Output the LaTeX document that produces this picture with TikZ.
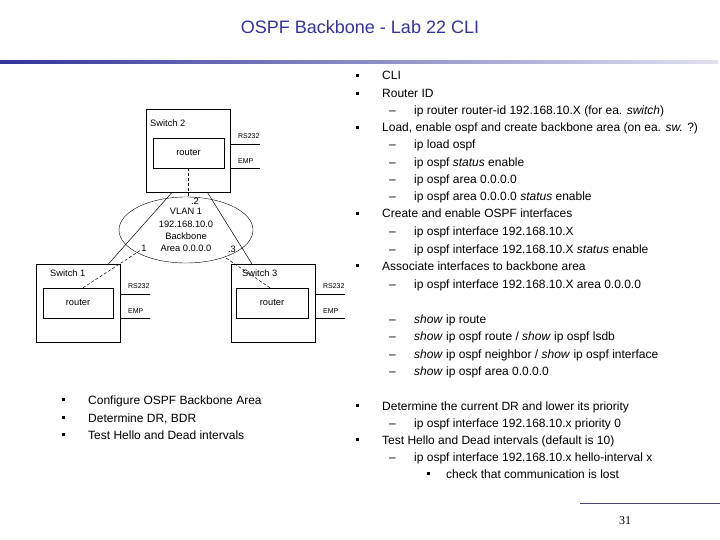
\documentclass[tikz,border=0pt]{standalone}
\usepackage{fontspec}
\setmainfont{Liberation Sans}
\newfontfamily\numfont{Liberation Serif}
\usetikzlibrary{shapes,arrows,positioning}

\definecolor{titleblue}{RGB}{51,51,153}
\definecolor{barlight}{RGB}{225,225,240}
\definecolor{footline}{RGB}{70,70,110}

% list markers
\newcommand\sqb{\rule[3.1pt]{2.6pt}{2.6pt}}
\newcommand\lvla[1]{\makebox[26.3pt][l]{\sqb}#1}
\newcommand\lvlb[1]{\makebox[25pt][l]{\textendash}#1}
\newcommand\lvlc[1]{\makebox[19.3pt][l]{\sqb}#1}

\begin{document}
\begin{tikzpicture}[
    x=1pt, y=-1pt,
    title/.style={font=\fontsize{18}{21}\selectfont, text=titleblue},
    item/.style={anchor=base west, inner sep=0pt, font=\fontsize{12}{14}\selectfont},
    switch/.style={rectangle, draw, anchor=north west, minimum width=84pt, minimum height=78pt, inner sep=0pt},
    router/.style={rectangle, draw, minimum width=71pt, minimum height=30pt, font=\fontsize{9.3}{11}\selectfont},
    swname/.style={anchor=west, inner sep=0pt, font=\fontsize{9.3}{11}\selectfont},
    addr/.style={inner sep=0.5pt, font=\fontsize{9.3}{11}\selectfont},
    port/.style={anchor=base west, inner sep=0pt, font=\fontsize{7}{8}\selectfont},
    link/.style={line width=0.5pt},
    dlink/.style={line width=0.5pt, dash pattern=on 3pt off 2pt}
]
\useasboundingbox (0,0) rectangle (720,540);

% Title and bar
\node[title] (title) at (360,27) {OSPF Backbone - Lab 22 CLI};
\shade[left color=titleblue, right color=barlight] (0,61) rectangle (718,64);

% Switches
\node[switch, minimum height=83pt] (sw2) at (146,109) {};
\node[switch] (sw1) at (36,264) {};
\node[switch] (sw3) at (231,264) {};
\node[swname] (sw2name) at (150,123) {Switch 2};
\node[swname] (sw1name) at (50,273) {Switch 1};
\node[swname] (sw3name) at (242,273) {Switch 3};

% Routers
\node[router] (r2) at (188.5,153) {router};
\node[router, minimum width=70pt] (r1) at (78,303) {router};
\node[router, minimum width=72pt] (r3) at (272,303) {router};

% Ports
\foreach \s in {1,2,3} {
  \draw[link] (sw\s.east |- r\s.north) ++(0,6) coordinate (rs\s) -- ++(30,0);
  \draw[link] (sw\s.east |- r\s.south) coordinate (emp\s) -- ++(30,0);
  \node[port] (rs\s lbl) at ([xshift=7.5pt,yshift=5pt]rs\s) {RS232};
  \node[port] (emp\s lbl) at ([xshift=7.5pt,yshift=5pt]emp\s) {EMP};
}

% Backbone area
\node[draw, ellipse, minimum width=134pt, minimum height=66pt, inner sep=0pt, align=center,
      font=\fontsize{9.3}{12.3}\selectfont] (vlan) at (186,230)
      {VLAN 1\\192.168.10.0\\Backbone\\Area 0.0.0.0};
\node[addr] (lbl2) at (195,201) {.2};
\node[addr] (lbl1) at (144,248) {1};
\node[addr] (lbl3) at (232,249) {.3};

% Links
\draw[link] ([xshift=26pt]sw2.south west) -- ([xshift=-12pt]sw1.north east);
\draw[link] ([xshift=-23pt]sw2.south east) -- ([xshift=21pt]sw3.north west);
\draw[dlink] (r2.south) -- (r2.south |- vlan.north);
\draw[dlink] ([xshift=5pt]r1.north) -- (lbl1);
\draw[dlink] ([xshift=-2pt]r3.north) -- (vlan.-35);

% Left list
\node[item] (cfg) at (61.7,404) {\lvla{Configure OSPF Backbone Area}};
\node[item] (drbdr) at (61.7,422) {\lvla{Determine DR, BDR}};
\node[item] (hello) at (61.7,439) {\lvla{Test Hello and Dead intervals}};

% Right list
\node[item] (cli) at (355.7,80) {\lvla{CLI}};
\node[item] (rid) at (355.7,98) {\lvla{Router ID}};
\node[item] (ridcmd) at (389,115) {\lvlb{ip router router-id 192.168.10.X (for ea. \textit{switch})}};
\node[item] (load) at (355.7,132) {\lvla{Load, enable ospf and create backbone area (on ea. \textit{sw.} ?)}};
\node[item] (loadcmd) at (389,149) {\lvlb{ip load ospf}};
\node[item] (enacmd) at (389,167) {\lvlb{ip ospf \textit{status} enable}};
\node[item] (areacmd) at (389,184) {\lvlb{ip ospf area 0.0.0.0}};
\node[item] (areaena) at (389,201) {\lvlb{ip ospf area 0.0.0.0 \textit{status} enable}};
\node[item] (intf) at (355.7,218) {\lvla{Create and enable OSPF interfaces}};
\node[item] (intfcmd) at (389,236) {\lvlb{ip ospf interface 192.168.10.X}};
\node[item] (intfena) at (389,253) {\lvlb{ip ospf interface 192.168.10.X \textit{status} enable}};
\node[item] (assoc) at (355.7,270) {\lvla{Associate interfaces to backbone area}};
\node[item] (assoccmd) at (389,288) {\lvlb{ip ospf interface 192.168.10.X area 0.0.0.0}};
\node[item] (show1) at (389,323) {\lvlb{\textit{show} ip route}};
\node[item] (show2) at (389,340) {\lvlb{\textit{show} ip ospf route / \textit{show} ip ospf lsdb}};
\node[item] (show3) at (389,358) {\lvlb{\textit{show} ip ospf neighbor / \textit{show} ip ospf interface}};
\node[item] (show4) at (389,375) {\lvlb{\textit{show} ip ospf area 0.0.0.0}};
\node[item] (dr) at (355.7,410) {\lvla{Determine the current DR and lower its priority}};
\node[item] (drcmd) at (389,427) {\lvlb{ip ospf interface 192.168.10.x priority 0}};
\node[item] (timers) at (355.7,444) {\lvla{Test Hello and Dead intervals (default is 10)}};
\node[item] (timercmd) at (389,461) {\lvlb{ip ospf interface 192.168.10.x hello-interval x}};
\node[item] (lost) at (426.7,478) {\lvlc{check that communication is lost}};

% Footer
\draw[footline, line width=1pt] (580,503) -- (720,503);
\node[font=\numfont\fontsize{12}{14}\selectfont] (pagenum) at (625,521) {31};

\end{tikzpicture}
\end{document}
